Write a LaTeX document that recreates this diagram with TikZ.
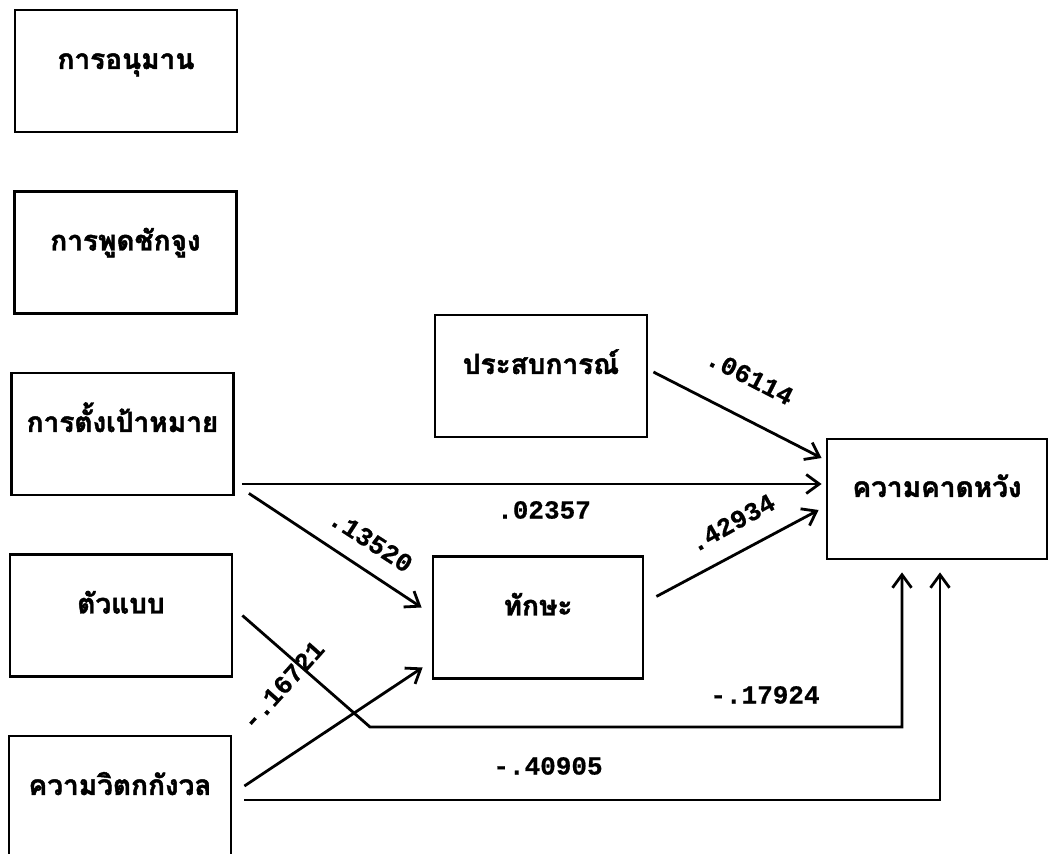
\documentclass[tikz,border=0pt]{standalone}
\usepackage{fontspec}
\newfontfamily\thaifont[Script=Thai, BoldFeatures={FakeBold=1.6}]{Loma}
\newfontfamily\coeffont[BoldFeatures={FakeBold=0.6}]{Liberation Mono}
\usetikzlibrary{arrows.meta}
\tikzset{
  box/.style={draw, line width=1.4pt, minimum width=111pt, minimum height=61pt,
    text height=7pt, text depth=9pt, font=\thaifont\bfseries\fontsize{14}{16}\selectfont},
  arr/.style={line width=1.4pt, -{Straight Barb[length=6.5pt,width=9.5pt,line width=1.4pt]}},
  coef/.style={inner sep=1pt, font=\coeffont\bfseries\fontsize{13}{15}\selectfont}
}
\begin{document}
\begin{tikzpicture}[x=0.5pt,y=-0.5pt]
        \useasboundingbox (0,0) rectangle (1050,854);
        \node[box] (infer) at (126,71) {การอนุมาน};
        \node[box] (persuade) at (125.5,252.5) {การพูดชักจูง};
        \node[box] (goal) at (122.5,434) {การตั้งเป้าหมาย};
        \node[box] (model) at (121,615.5) {ตัวแบบ};
        \node[box] (anx) at (120,797) {ความวิตกกังวล};
        \node[box, minimum width=106pt] (exper) at (541,376) {ประสบการณ์};
        \node[box, minimum width=105pt] (skill) at (538,617.5) {ทักษะ};
        \node[box, minimum width=110pt, minimum height=60pt] (expect) at (937,499) {ความคาดหวัง};
        \coordinate (modelbend) at (370,727);
        \draw[arr] ([shift={(5,-4)}]exper.east) -- ([shift={(-4,-41)}]expect.west);
        \draw[arr] ([shift={(7,50)}]goal.east) -- ([shift={(-4,-15)}]expect.west);
        \draw[arr] ([shift={(14,-3)}]goal.south east) -- ([shift={(-10,-10)}]skill.west);
        \draw[arr] ([shift={(12,-21)}]skill.east) -- ([shift={(-7,11)}]expect.west);
        \draw[arr] ([shift={(9,0)}]model.east) -- (modelbend) -| ([shift={(-35,12)}]expect.south);
        \draw[arr] ([shift={(12,-11)}]anx.east) -- ([shift={(-9,50)}]skill.west);
        \draw[arr] ([shift={(12,3)}]anx.east) -| ([shift={(3,12)}]expect.south);
        \node[coef, rotate=-27] (cexper) at (750,377) {.06114};
        \node[coef] (cgoal) at (544,510) {.02357};
        \node[coef, rotate=-33] (cgoalskill) at (371,541) {.13520};
        \node[coef, rotate=29] (cskill) at (732,523) {.42934};
        \node[coef, rotate=48] (canxskill) at (283,685) {-.16721};
        \node[coef] (cmodel) at (765,695) {-.17924};
        \node[coef] (canx) at (548,766) {-.40905};
    \end{tikzpicture}
\end{document}
